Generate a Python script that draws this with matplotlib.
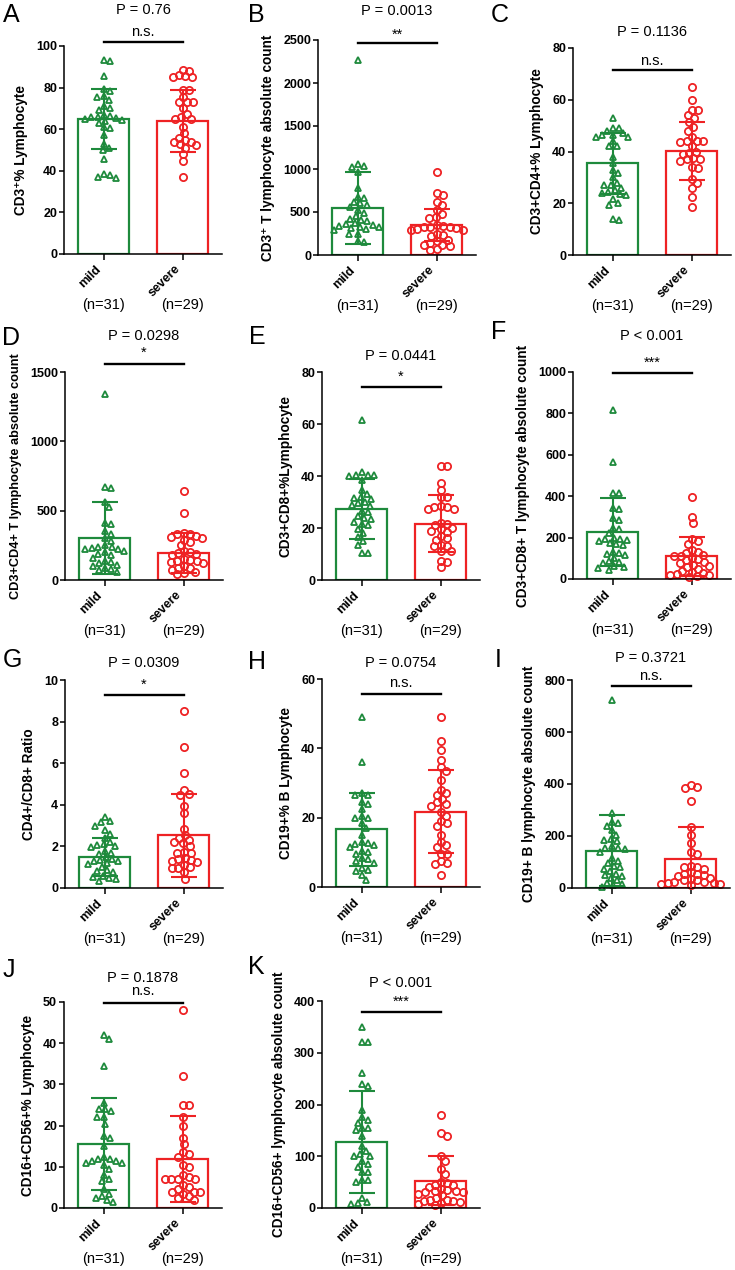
import numpy as np
import matplotlib
matplotlib.use('Agg')
import matplotlib.pyplot as plt

plt.rcParams['font.family'] = ['Liberation Sans', 'DejaVu Sans']

GREEN = '#1e8a3c'
RED = '#ee2224'

groups = ['mild', 'severe']
n_labels = ['(n=31)', '(n=29)']

# values (mild n=31, severe n=29)
a_mild = [93.5, 93, 85.5, 79.5, 78.5, 76, 75.5, 74, 71, 70, 69, 67, 66.5, 66, 66, 65.5, 65, 64.5, 64, 63, 61, 60.5, 57, 53, 51, 50, 45.5, 38.5, 38, 37, 36.5]
a_severe = [88.5, 88, 86, 85.5, 85, 85, 79, 79, 75.5, 73, 73, 73, 70, 67.5, 66, 65, 65, 61, 58, 56, 55, 54, 54, 53, 52.5, 51, 48, 44.5, 37]
b_mild = [2270, 1060, 1040, 1020, 960, 775, 680, 660, 620, 600, 580, 560, 520, 485, 450, 420, 405, 390, 370, 360, 350, 340, 330, 320, 310, 300, 290, 250, 240, 160, 150]
b_severe = [970, 720, 700, 620, 580, 525, 480, 445, 425, 350, 340, 330, 320, 320, 310, 300, 290, 290, 250, 230, 220, 180, 160, 140, 120, 115, 110, 70, 60]
c_mild = [53, 49, 49, 48, 47, 46.5, 46.5, 45.5, 45.5, 44, 42, 42, 38, 35.5, 33, 31.5, 30, 28, 27, 27, 26, 25, 24.5, 24, 23.5, 23, 21.5, 20, 19.5, 14, 13.5]
c_severe = [65, 60, 56, 56, 54, 53, 51.5, 49.5, 48, 45.5, 44, 44, 44, 43.5, 42, 40, 39.5, 39, 37.5, 37, 37, 36.5, 34, 33.5, 29.5, 28, 26, 22.5, 18.5]
d_mild = [1340, 670, 665, 565, 530, 410, 405, 350, 330, 300, 280, 250, 240, 235, 230, 225, 220, 210, 200, 190, 180, 160, 140, 130, 120, 110, 100, 90, 80, 70, 60]
d_severe = [645, 480, 340, 335, 330, 320, 310, 300, 290, 275, 250, 210, 205, 195, 190, 180, 150, 145, 140, 135, 130, 120, 100, 90, 85, 70, 60, 50, 40]
e_mild = [61.5, 41.5, 40.5, 40.5, 40.5, 40, 38.5, 34.5, 33, 32, 31.5, 31, 30, 29.5, 29, 28.5, 26.5, 26, 24.5, 24, 23.5, 22.5, 21.5, 21, 19.5, 18, 16.5, 15, 13.5, 10.5, 10.3]
e_severe = [44, 44, 37.5, 34.5, 32, 32, 28.5, 28, 28, 27.5, 27.5, 22, 21.5, 21, 20, 19.5, 19, 18.5, 17, 16, 15.5, 13.5, 13, 13, 11, 11, 7.5, 7, 5]
f_mild = [815, 565, 415, 415, 345, 340, 295, 285, 245, 240, 220, 200, 195, 195, 190, 185, 175, 170, 165, 130, 125, 120, 115, 100, 85, 80, 75, 65, 60, 55, 45]
f_severe = [395, 300, 270, 195, 185, 170, 140, 130, 125, 115, 110, 110, 100, 95, 90, 80, 75, 70, 65, 60, 50, 40, 35, 30, 25, 20, 20, 15, 8]
g_mild = [3.4, 3.2, 3.15, 3.0, 2.8, 2.6, 2.4, 2.2, 2.1, 2.05, 2.0, 1.95, 1.8, 1.7, 1.65, 1.5, 1.4, 1.35, 1.3, 1.3, 1.2, 1.15, 1.0, 0.85, 0.8, 0.75, 0.6, 0.55, 0.5, 0.45, 0.35]
g_severe = [8.5, 6.8, 5.55, 4.7, 4.5, 4.45, 3.95, 3.6, 2.85, 2.55, 2.4, 2.3, 2.2, 2.15, 2.0, 1.75, 1.7, 1.7, 1.45, 1.4, 1.35, 1.3, 1.25, 1.1, 1.0, 0.95, 0.95, 0.75, 0.45]
h_mild = [49, 36, 27, 26.5, 26.5, 24.5, 24, 22.5, 20.5, 20, 20, 18.5, 17, 15, 13, 12.8, 12.5, 12, 11.5, 10.5, 10, 9.5, 8.5, 8, 7.5, 7, 5.5, 5, 4.5, 3.5, 2]
h_severe = [49, 42, 39.5, 36.5, 34.5, 33.5, 31, 28, 27, 26.5, 25.5, 24.5, 24, 23.5, 21.5, 20.5, 19, 18.5, 17.5, 15, 13, 12, 11.5, 9.5, 9.5, 7.5, 7, 6.5, 3.5]
i_mild = [725, 290, 255, 250, 240, 225, 205, 190, 185, 180, 160, 155, 155, 150, 140, 115, 105, 95, 85, 80, 75, 65, 55, 50, 45, 40, 30, 20, 15, 10, 5]
i_severe = [395, 390, 385, 335, 235, 205, 175, 140, 130, 85, 80, 80, 75, 60, 55, 55, 50, 45, 40, 35, 30, 30, 25, 25, 20, 20, 15, 15, 10]
j_mild = [42, 41, 34.5, 25.5, 24, 24, 23.5, 22, 22, 20.5, 17.5, 17, 15, 12.5, 12, 12, 11.5, 11.5, 11, 11, 10.5, 9.5, 8, 7, 6.5, 4.5, 3.5, 3, 2.5, 2, 1.5]
j_severe = [48, 32, 25, 25, 22, 20, 17, 15.5, 13.5, 13, 12.5, 10.5, 10, 8, 7.5, 7, 7, 7, 7, 5.5, 5, 4.5, 4, 4, 4, 3.5, 3, 2.5, 2]
k_mild = [350, 320, 320, 260, 240, 235, 190, 175, 170, 165, 155, 155, 150, 140, 120, 110, 105, 100, 100, 90, 85, 80, 70, 70, 55, 55, 50, 20, 12, 10, 8]
k_severe = [180, 145, 140, 100, 90, 75, 65, 50, 48, 45, 44, 40, 37, 35, 33, 32, 30, 30, 28, 25, 20, 16, 15, 14, 13, 12, 10, 8, 5]

# bar heights (mean) and error bars (SD), mild then severe
means = {'A': (65, 64), 'B': (546, 349), 'C': (35.4, 40.2), 'D': (301, 195),
         'E': (27.3, 21.7), 'F': (226, 109), 'G': (1.49, 2.54), 'H': (16.6, 21.7),
         'I': (143, 113), 'J': (15.5, 11.9), 'K': (128, 53)}
sds = {'A': (14.5, 14.8), 'B': (423, 186), 'C': (11.8, 11.3), 'D': (258, 142),
       'E': (11.5, 11.0), 'F': (164, 95), 'G': (0.93, 2.0), 'H': (10.4, 12.0),
       'I': (137, 122), 'J': (11.1, 10.5), 'K': (99, 48)}

ylabels = {'A': 'CD3⁺% Lymphocyte', 'B': 'CD3⁺ T lymphocyte absolute count',
           'C': 'CD3+CD4+% Lymphocyte', 'D': 'CD3+CD4+ T lymphocyte absolute count',
           'E': 'CD3+CD8+%Lymphocyte', 'F': 'CD3+CD8+ T lymphocyte absolute count',
           'G': 'CD4+/CD8+ Ratio', 'H': 'CD19+% B Lymphocyte',
           'I': 'CD19+ B lymphocyte absolute count', 'J': 'CD16+CD56+% Lymphocyte',
           'K': 'CD16+CD56+ lymphocyte absolute count'}
yticks = {'A': (100, 20), 'B': (2500, 500), 'C': (80, 20), 'D': (1500, 500),
          'E': (80, 20), 'F': (1000, 200), 'G': (10, 2), 'H': (60, 20),
          'I': (800, 200), 'J': (50, 10), 'K': (400, 100)}
pvals = {'A': 'P = 0.76', 'B': 'P = 0.0013', 'C': 'P = 0.1136', 'D': 'P = 0.0298',
         'E': 'P = 0.0441', 'F': 'P < 0.001', 'G': 'P = 0.0309', 'H': 'P = 0.0754',
         'I': 'P = 0.3721', 'J': 'P = 0.1878', 'K': 'P < 0.001'}
sigs = {'A': 'n.s.', 'B': '**', 'C': 'n.s.', 'D': '*', 'E': '*', 'F': '***',
        'G': '*', 'H': 'n.s.', 'I': 'n.s.', 'J': 'n.s.', 'K': '***'}
points = {'A': (a_mild, a_severe), 'B': (b_mild, b_severe), 'C': (c_mild, c_severe),
          'D': (d_mild, d_severe), 'E': (e_mild, e_severe), 'F': (f_mild, f_severe),
          'G': (g_mild, g_severe), 'H': (h_mild, h_severe), 'I': (i_mild, i_severe),
          'J': (j_mild, j_severe), 'K': (k_mild, k_severe)}

# layout in pixels: axes left, top, bottom; line / sig / P heights (axes frac); letter x, y
layout = {
    'A': (64, 46, 254, 1.019, 1.067, 1.173, 3, 3),
    'B': (318, 40, 255, 0.986, 1.025, 1.135, 248, 3),
    'C': (573, 48, 255, 0.894, 0.937, 1.077, 491, 3),
    'D': (65, 372, 580, 1.038, 1.093, 1.173, 2, 326),
    'E': (322, 372, 580, 0.928, 0.977, 1.077, 249, 325),
    'F': (573, 372, 579, 0.995, 1.045, 1.174, 491, 320),
    'G': (65, 680, 888, 0.928, 0.977, 1.082, 3, 648),
    'H': (322, 679, 887, 0.928, 0.981, 1.077, 248, 650),
    'I': (572, 680, 888, 0.971, 1.019, 1.106, 495, 648),
    'J': (64, 1002, 1208, 0.995, 1.053, 1.117, 3, 958),
    'K': (322, 1001, 1208, 0.947, 0.997, 1.087, 248, 955),
}
label_size = {'D': 9.2}

W, H = 735, 1270
AX_W = 158
UNIT_PX = AX_W / 2.0


def swarm(vals, ppu, d=6.3):
    # simple beeswarm: spread points sideways so markers don't overlap
    ys = np.asarray(vals, float) * ppu
    xs = np.zeros(len(ys))
    offs = [0.0]
    for k in range(1, 120):
        offs += [k * 0.5, -k * 0.5]
    placed = []
    for i in np.argsort(-ys, kind='stable'):
        for o in offs:
            if all((o - px) ** 2 + (ys[i] - py) ** 2 >= d * d for px, py in placed):
                break
        placed.append((o, ys[i]))
        xs[i] = o
    return xs / UNIT_PX


fig = plt.figure(figsize=(W / 100, H / 100), dpi=100)

for key, (left, top, bottom, yl, ys_, yp, lx, ly) in layout.items():
    ax = fig.add_axes([left / W, 1 - bottom / H, AX_W / W, (bottom - top) / H])
    ymax, ystep = yticks[key]
    ppu = (bottom - top) / ymax
    cols = [GREEN, RED]
    marks = ['^', 'o']
    for i in range(2):
        ax.bar(i, means[key][i], width=0.645, facecolor='none', edgecolor=cols[i],
               linewidth=1.6, zorder=1)
        vals = points[key][i]
        xo = swarm(vals, ppu)
        ax.plot(i + xo, vals, linestyle='none', marker=marks[i],
                ms=5.0 if i == 0 else 5.2, mfc='none', mec=cols[i], mew=1.3,
                zorder=2, clip_on=False)
        ax.errorbar(i, means[key][i], yerr=sds[key][i], color=cols[i], capsize=9.5,
                    elinewidth=1.5, capthick=1.5, zorder=3)

    ax.set_xlim(-0.5, 1.5)
    ax.set_ylim(0, ymax)
    ax.set_yticks(np.arange(0, ymax + ystep / 2, ystep))
    ax.set_xticks([0, 1])
    ax.set_xticklabels(groups, rotation=45, ha='right', va='top',
                       fontsize=9, fontweight='bold')
    for lab in ax.get_yticklabels():
        lab.set_fontweight('bold')
        lab.set_fontsize(9)
    for s in ['top', 'right']:
        ax.spines[s].set_visible(False)
    for s in ['left', 'bottom']:
        ax.spines[s].set_linewidth(1.1)
    ax.tick_params(axis='both', length=3.5, width=1.1, pad=1.5)
    ax.tick_params(axis='x', length=4, pad=2.5)
    ax.set_ylabel(ylabels[key], fontsize=label_size.get(key, 9.8),
                  fontweight='bold', labelpad=6)

    for i in range(2):
        ax.annotate(n_labels[i], xy=(i, 0), xycoords=('data', 'axes fraction'),
                    xytext=(0, -51 * 0.72), textcoords='offset points',
                    ha='center', va='center', fontsize=10.5)

    tr = ax.get_xaxis_transform()
    ax.plot([0, 1], [yl, yl], color='black', linewidth=1.7, transform=tr, clip_on=False)
    ax.text(0.5, ys_, sigs[key], transform=tr, ha='center', va='center', fontsize=10.5)
    ax.text(0.5, yp, pvals[key], transform=tr, ha='center', va='center', fontsize=10.5)

    fig.text(lx / W, 1 - ly / H, key, fontsize=18, ha='left', va='top')

fig.savefig('out.png', dpi=100)
